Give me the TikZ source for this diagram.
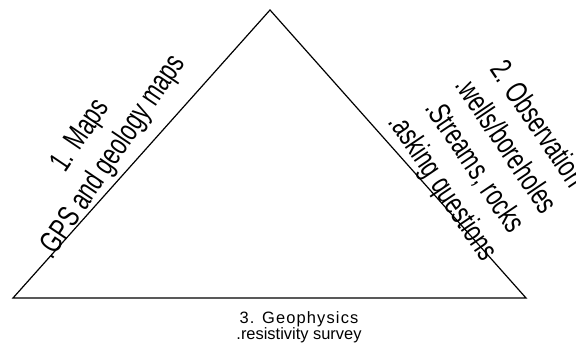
\documentclass[tikz,border=0pt]{standalone}
\usepackage{fontspec}
\setmainfont{Liberation Sans}
\newfontfamily\narrowfont[FakeStretch=0.71]{Liberation Sans}
\newfontfamily\spacedfont[LetterSpace=7]{Liberation Sans}
\begin{document}
\begin{tikzpicture}[x=1bp,y=1bp,
  edge/.style={line width=1.2bp, line join=miter},
  sidelabel/.style={font=\narrowfont\fontsize{31}{38}\selectfont, align=center, inner sep=0pt},
  baselabel/.style={font=\fontsize{16.5}{15}\selectfont, align=center, inner sep=0pt}]
\useasboundingbox (0,0) rectangle (576,345);
\clip (0,0) rectangle (576,345);
\coordinate (top) at (270,335);
\coordinate (bl) at (13,47);
\coordinate (br) at (526,47);
\draw[edge] (top) -- (bl) -- (br) -- cycle;
\node[sidelabel, rotate=56] (maps) at (97,198) {1. Maps\\.GPS and geology maps};
\node[sidelabel, rotate=-56] (obs) at (489,188.5) {2. Observation\\.wells/boreholes\\.Streams, rocks\\.asking questions};
\node[baselabel, anchor=north] (geo) at (299,34) {{\spacedfont 3. Geophysics}\\.resistivity survey};
\end{tikzpicture}
\end{document}
